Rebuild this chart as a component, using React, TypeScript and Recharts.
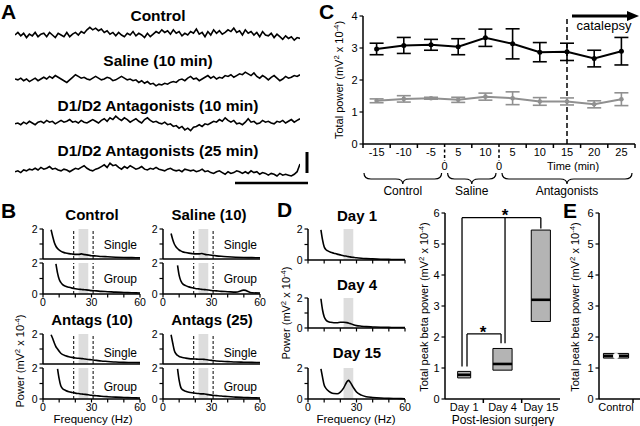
import React from 'react';
import { LineChart, Line, XAxis, YAxis, ReferenceLine, ReferenceArea, ErrorBar, ComposedChart } from 'recharts';

const FONT = '"Liberation Sans", Arial, Helvetica, sans-serif';

// ---------- Panel A: raw traces ----------
const traceTitles = ['Control', 'Saline (10 min)', 'D1/D2 Antagonists (10 min)', 'D1/D2 Antagonists (25 min)'];
const traceControl = [0,1.5,-0.5,1,-1.5,0.5,-0.5,1.5,-1,0.5,1,-1,1.5,0,-1.5,1,0,-1,1.5,-1,0.5,1.5,0,2,1,3,4.5,3,4,2.5,3.5,1.5,2.5,0.5,1.5,-0.5,1.5,0,-1,1,0,2,-0.5,1,0,-1.5,1,-1,0.5,2,1,3,1.5,2.5,0.5,3,1,2,-0.5,1,0,2,1,3.5,0.5,1.5,-1,2,0,3,1,2.5,0.5,1.5,3,2,4,1.5,2.5,0,3,1,2,0,1.5,-1,2,0,-0.5,1,-1.5,0.5,-1,-2.5,-0.5,-2,-1,-3,-1.5,-2];
const traceSaline = [0,-0.5,0.5,-1,0,-1.5,-0.5,0.5,-1,0,1,0,1.5,0.5,2,1,0,-1,-2,-0.5,1,2.5,1.5,0.5,1,0,-0.5,0.5,1.5,0.5,-0.5,0,1,0.5,-1,-0.5,0.5,1.5,0.5,-0.5,0,-1,-0.5,-2,-1,-2.5,-1.5,-3,-2.5,-4,-3,-3.5,-2.5,-3,-2,-1.5,-2,-0.5,0,-1,0.5,1.5,0,0.5,-1,0,1,2,0.5,1.5,0,1,0.5,2,1.5,2.5,1,2,3,2.5,4,3,2,3.5,1.5,0.5,2,1,-0.5,1,2,0.5,-1,0,1.5,0.5,1,2,1.5,2.5];
const traceAnt10 = [-0.5,0,-1,0.5,-0.5,1,0,-1,0.5,1,0,1.5,0.5,1,-0.5,0.5,1.5,0.5,1,2,0.5,1,0,1.5,0.5,0,1,2,1,0,1.5,2.5,1,3,2,4,2.5,1.5,3,2,0.5,1.5,2.5,1,0,2,3,1.5,0.5,1,0,-0.5,0.5,-1,-0.5,-2,-1.5,-3,-2,-4,-3,-4.5,-2.5,-2,-1,-2,-0.5,-1,0,1,0.5,2,1,3,1.5,0.5,1.5,-0.5,0,-1,0.5,2.5,0.5,1,-0.5,0,1.5,0.5,1,0,-0.5,1,0.5,1.5,0,1,2,0.5,1.5,2.5];
const traceAnt25 = [-1,-0.5,-1.5,0,-0.5,0.5,0,1,0,1.5,0.5,1,2,0.5,1,0,-0.5,0.5,0,-1,0,1,0.5,1.5,2.5,1,0,-0.5,0.5,1,2,3,1.5,4,2.5,3,1.5,0.5,2,1,2.5,1.5,0.5,1,2,0.5,0,1,0.5,1.5,0.5,0,-0.5,0.5,1,0,-0.5,0,-1,0.5,0,-0.5,0,-1,-0.5,0.5,-1,-0.5,-1.5,-2,-1,-0.5,-1.5,-2.5,-1,-2,-1.5,-0.5,-1,-2,-1,-2,-0.5,-1.5,-1,-2.5,-1.5,-2,-3,-2,-2.5,-3.5,-2,-3,-2.5,-3,-3.5,-2.5,-1,3.5];

// ---------- Panels B & D: power spectra ----------
const freqs = [5,6,7,8,9,10,11,12,14,16,18,20,22,24,25,26,28,30,33,36,40,45,50,55,60];
const ctrlSingle = [1.95,1.5,1.1,0.85,0.7,0.6,0.52,0.46,0.4,0.36,0.33,0.31,0.31,0.34,0.31,0.29,0.26,0.22,0.2,0.17,0.15,0.12,0.1,0.09,0.08];
const ctrlGroup = [null,null,null,1.95,1.35,0.95,0.75,0.62,0.5,0.43,0.38,0.34,0.31,0.29,0.28,0.27,0.25,0.22,0.2,0.17,0.15,0.12,0.1,0.08,0.06];
const salSingle = [1.7,1.3,1.0,0.82,0.7,0.6,0.54,0.49,0.43,0.39,0.36,0.34,0.34,0.37,0.34,0.31,0.28,0.25,0.21,0.18,0.15,0.12,0.1,0.09,0.08];
const salGroup = [null,null,null,null,1.85,1.2,0.85,0.68,0.54,0.46,0.4,0.36,0.33,0.3,0.29,0.28,0.26,0.23,0.2,0.17,0.15,0.12,0.25,0.08,0.06];
const ant10Single = [1.95,1.7,1.4,1.15,1.0,0.85,0.72,0.64,0.55,0.48,0.44,0.4,0.38,0.36,0.35,0.33,0.3,0.28,0.24,0.2,0.17,0.13,0.11,0.1,0.09];
const ant10Group = [null,null,null,null,1.95,1.3,0.85,0.68,0.55,0.47,0.42,0.38,0.35,0.32,0.31,0.3,0.27,0.24,0.21,0.18,0.15,0.12,0.1,0.08,0.06];
const ant25Single = [1.95,1.4,0.9,0.68,0.57,0.5,0.46,0.43,0.39,0.36,0.34,0.33,0.32,0.32,0.31,0.3,0.27,0.24,0.2,0.18,0.16,0.13,0.12,0.11,0.1];
const ant25Group = [null,null,null,null,1.95,1.2,0.75,0.6,0.5,0.44,0.4,0.37,0.35,0.33,0.33,0.32,0.28,0.25,0.22,0.19,0.16,0.12,0.1,0.08,0.06];
const day1Spec = [null,null,null,1.95,1.3,0.85,0.68,0.6,0.5,0.44,0.38,0.33,0.28,0.24,0.22,0.2,0.17,0.14,0.11,0.09,0.07,0.05,0.04,0.03,0.03];
const day4Spec = [null,null,null,1.95,1.2,0.75,0.55,0.45,0.38,0.35,0.35,0.38,0.38,0.36,0.33,0.3,0.22,0.16,0.12,0.09,0.07,0.05,0.04,0.03,0.03];
const day15Spec = [null,null,null,1.95,1.4,0.9,0.7,0.58,0.42,0.35,0.34,0.45,0.7,1.1,1.2,1.1,0.75,0.45,0.25,0.15,0.1,0.06,0.04,0.03,0.02];
const betaBand = [22, 28];
const dashedHz = [19, 31];
const hzTicks = [0,10,20,30,40,50,60];
const hzLabels = [0,30,60];

// ---------- Panel C ----------
const timeLabels = ['-15','-10','-5','5','10','5','10','15','20','25'];
const blackMean = [2.97,3.08,3.1,3.04,3.32,3.13,2.87,2.88,2.67,2.9];
const blackErr = [0.18,0.25,0.17,0.25,0.27,0.47,0.3,0.27,0.26,0.43];
const grayMean = [1.35,1.41,1.43,1.38,1.48,1.43,1.33,1.33,1.24,1.4];
const grayErr = [0.06,0.1,0.03,0.08,0.11,0.2,0.12,0.11,0.11,0.2];
const phaseNames = ['Control','Saline','Antagonists'];
const phaseCounts = [3,2,5];

// ---------- Panels D (box) & E ----------
const dayLabels = ['Day 1','Day 4','Day 15'];
const boxLow = [0.68,0.93,2.5];
const boxHigh = [0.89,1.63,5.45];
const boxMed = [0.78,1.13,3.2];
const ctrlLabels = ['Control'];
const ctrlLow = [1.32];
const ctrlHigh = [1.47];
const ctrlMed = [1.39];

// annotation geometry (data units)
const boxHalfW = [0.17,0.25,0.25];
const bracketSegs = [
  [-0.056,1.05,-0.056,5.85],[0.074,1.05,0.074,2.1],[0.074,2.1,0.962,2.1],[0.962,2.1,0.962,1.8],
  [1.066,1.8,1.066,5.85],[-0.056,5.85,2.0,5.85],[2.0,5.85,2.0,5.5],
];

const AX = { stroke: '#000', strokeWidth: 1.5 };

const yTick = (labels: number[], fs = 10.5) => (p: any) => {
  const { x, y, payload } = p;
  const show = labels.includes(payload.value);
  return (
    <g>
      <line x1={x - 3.5} x2={x} y1={y} y2={y} stroke="#000" strokeWidth={1.2} />
      {show && <text x={x - 5.5} y={y + 3.8} textAnchor="end" fontSize={fs} fontFamily={FONT} fill="#000">{payload.value}</text>}
    </g>
  );
};

const xTickHz = (withLabels: boolean) => (p: any) => {
  const { x, y, payload } = p;
  const show = withLabels && hzLabels.includes(payload.value);
  return (
    <g>
      <line x1={x} x2={x} y1={y} y2={y + 3.5} stroke="#000" strokeWidth={1.2} />
      {show && <text x={x} y={y + 12} textAnchor="middle" fontSize={10.5} fontFamily={FONT} fill="#000">{payload.value}</text>}
    </g>
  );
};

function Trace({ vals, cy }: any) {
  const data = vals.map((v: number, i: number) => ({ i, v }));
  return (
    <div style={{ position: 'absolute', left: 15, top: cy - 12 }}>
      <LineChart width={285} height={24} data={data} margin={{ top: 0, right: 0, left: 0, bottom: 0 }}>
        <XAxis type="number" dataKey="i" domain={['dataMin', 'dataMax']} hide />
        <YAxis type="number" domain={[-7, 7]} hide />
        <Line type="linear" dataKey="v" stroke="#000" strokeWidth={1.6} dot={false} isAnimationActive={false} />
      </LineChart>
    </div>
  );
}

function Spec({ x, y, w, h, vals, xMode, yLabels, dashed }: any) {
  const YW = 28, MT = 8, MR = 8, XH = 16;
  const data = freqs.map((f, i) => ({ f, v: vals[i] }));
  return (
    <div style={{ position: 'absolute', left: x - YW, top: y - MT }}>
      <LineChart width={w + YW + MR} height={h + MT + XH} data={data} margin={{ top: MT, right: MR, left: 0, bottom: 0 }}>
        <ReferenceArea x1={betaBand[0]} x2={betaBand[1]} fill="#dddddd" fillOpacity={1} stroke="none" />
        {dashed && dashedHz.map((d) => <ReferenceLine key={d} x={d} stroke="#000" strokeWidth={1} strokeDasharray="3 2" />)}
        <XAxis type="number" dataKey="f" domain={[0, 60]} ticks={hzTicks} interval={0} height={XH} axisLine={AX}
          tickLine={false} tickSize={0} tickMargin={0} tick={xMode === 'line' ? false : xTickHz(xMode === 'labels')} />
        <YAxis type="number" domain={[0, 2]} ticks={[0, 1, 2]} interval={0} width={YW} axisLine={AX}
          tickLine={false} tickSize={0} tickMargin={0} tick={yTick(yLabels)} />
        <Line type="monotone" dataKey="v" stroke="#000" strokeWidth={1.6} dot={false} isAnimationActive={false} />
      </LineChart>
    </div>
  );
}

const C_W = 272, C_H = 128, C_X = 363, C_Y = 16;
const C_BW = C_W / timeLabels.length;
const phaseBounds: number[] = [];
phaseCounts.reduce((acc, c) => { phaseBounds.push(acc + c - 0.5); return acc + c; }, 0);

const cTick = (p: any) => {
  const { x, y, payload } = p;
  const v = payload.value;
  const idx = Math.round(v + 0.5);
  const isPhase = phaseBounds.slice(0, -1).some((b) => Math.abs(b - v) < 1e-6);
  return (
    <g>
      {isPhase ? (
        <g>
          <line x1={x} x2={x} y1={y} y2={y + 17} stroke="#000" strokeWidth={1.5} strokeDasharray="3 2.5" />
          <text x={x} y={y + 26} textAnchor="middle" fontSize={11} fontFamily={FONT}>0</text>
        </g>
      ) : (
        <line x1={x} x2={x} y1={y} y2={y + 4} stroke="#000" strokeWidth={1.5} />
      )}
      {idx < timeLabels.length && (
        <text x={x + C_BW / 2} y={y + 12} textAnchor="middle" fontSize={11} fontFamily={FONT}>{timeLabels[idx]}</text>
      )}
    </g>
  );
};

function PanelC() {
  const data = timeLabels.map((t, i) => ({ i, bm: blackMean[i], be: blackErr[i], gm: grayMean[i], ge: grayErr[i] }));
  const YW = 30, MT = 8, MR = 5, XH = 30;
  const ticks = timeLabels.map((_, i) => i - 0.5).concat([timeLabels.length - 0.5]);
  const cat = timeLabels.lastIndexOf('15');
  return (
    <div style={{ position: 'absolute', left: C_X - YW, top: C_Y - MT }}>
      <LineChart width={C_W + YW + MR} height={C_H + MT + XH} data={data} margin={{ top: MT, right: MR, left: 0, bottom: 0 }}>
        <XAxis type="number" dataKey="i" domain={[-0.5, timeLabels.length - 0.5]} ticks={ticks} interval={0} height={XH}
          axisLine={AX} tickLine={false} tickSize={0} tickMargin={0} tick={cTick} />
        <YAxis type="number" domain={[0, 4]} ticks={[0, 1, 2, 3, 4]} interval={0} width={YW} axisLine={AX}
          tickLine={false} tickSize={0} tickMargin={0} tick={yTick([0, 1, 2, 3, 4], 11)} />
        <ReferenceLine x={cat} stroke="#000" strokeWidth={1.5} strokeDasharray="5 3" />
        <Line type="linear" dataKey="gm" stroke="#909090" strokeWidth={2} dot={{ r: 2.3, fill: '#909090', strokeWidth: 0 }} isAnimationActive={false}>
          <ErrorBar dataKey="ge" width={7} stroke="#909090" strokeWidth={1.6} direction="y" />
        </Line>
        <Line type="linear" dataKey="bm" stroke="#000" strokeWidth={2} dot={{ r: 2.5, fill: '#000', strokeWidth: 0 }} isAnimationActive={false}>
          <ErrorBar dataKey="be" width={7} stroke="#000" strokeWidth={1.6} direction="y" />
        </Line>
      </LineChart>
    </div>
  );
}

function BoxPanel({ x, w, labels, lows, highs, meds, halfW, domain, brackets, tickVals }: any) {
  const YW = 30, MT = 8, MR = 0, XH = 20, H = 186, Y = 213;
  const data = labels.map((l: string, i: number) => ({ p: i, med: meds[i] }));
  const bw = w / (domain[1] - domain[0]);
  const tick = (p: any) => {
    const { x: tx, y, payload } = p;
    const v = payload.value;
    const idx = Math.round(v - 0.5);
    return (
      <g>
        {v > domain[0] + 0.01 && v < domain[1] && <line x1={tx} x2={tx} y1={y} y2={y + 4} stroke="#000" strokeWidth={1.5} />}
        {idx >= 0 && idx < labels.length && Math.abs(v - (idx + 0.5)) < 1e-6 && (
          <text x={tx - bw / 2} y={y + 12} textAnchor="middle" fontSize={11} fontFamily={FONT}>{labels[idx]}</text>
        )}
      </g>
    );
  };
  return (
    <div style={{ position: 'absolute', left: x - YW, top: Y - MT }}>
      <ComposedChart width={w + YW + MR} height={H + MT + XH} data={data} margin={{ top: MT, right: MR, left: 0, bottom: 0 }}>
        <XAxis type="number" dataKey="p" domain={domain} ticks={tickVals} interval={0} height={XH} axisLine={AX}
          tickLine={false} tickSize={0} tickMargin={0} tick={tick} allowDataOverflow />
        <YAxis type="number" domain={[0, 6]} ticks={[0, 1, 2, 3, 4, 5, 6]} interval={0} width={YW} axisLine={AX}
          tickLine={false} tickSize={0} tickMargin={0} tick={yTick([0, 1, 2, 3, 4, 5, 6], 11)} />
        {brackets.map((s: number[], k: number) => (
          <ReferenceLine key={'b' + k} segment={[{ x: s[0], y: s[1] }, { x: s[2], y: s[3] }]} stroke="#000" strokeWidth={1.3} ifOverflow="visible" />
        ))}
        {labels.map((l: string, i: number) => (
          <ReferenceArea key={'a' + i} x1={i - halfW[i]} x2={i + halfW[i]} y1={lows[i]} y2={highs[i]} fill="#b4b4b4" fillOpacity={1} stroke="#000" strokeWidth={1} />
        ))}
        {labels.map((l: string, i: number) => (
          <ReferenceLine key={'m' + i} segment={[{ x: i - halfW[i], y: meds[i] }, { x: i + halfW[i], y: meds[i] }]} stroke="#000" strokeWidth={2.6} />
        ))}
        <Line dataKey="med" stroke="none" dot={false} activeDot={false} isAnimationActive={false} />
      </ComposedChart>
    </div>
  );
}

function SupLabel({ x, y, pre, size = 11 }: any) {
  return (
    <text transform={`translate(${x},${y}) rotate(-90)`} textAnchor="middle" fontSize={size} fontFamily={FONT} fill="#000">
      {pre}(mV<tspan dy={-4} fontSize={size * 0.7}>2</tspan><tspan dy={4}> x 10</tspan><tspan dy={-4} fontSize={size * 0.7}>-4</tspan><tspan dy={4}>)</tspan>
    </text>
  );
}

function brace(x1: number, x2: number, y0: number, y1: number, y2: number) {
  const xm = (x1 + x2) / 2;
  return `M${x1},${y0} Q${x1},${y1} ${x1 + 7},${y1} L${xm - 7},${y1} Q${xm},${y1} ${xm},${y2} Q${xm},${y1} ${xm + 7},${y1} L${x2 - 7},${y1} Q${x2},${y1} ${x2},${y0}`;
}

export default function App() {
  const tc = [35, 79, 123, 170];
  const tTitleY = [21, 66, 111, 156];
  const traces = [traceControl, traceSaline, traceAnt10, traceAnt25];
  const braceStarts: number[] = [];
  phaseCounts.reduce((acc, c) => { braceStarts.push(acc); return acc + c; }, 0);
  return (
    <div style={{ position: 'absolute', left: 0, top: 0, width: 640, height: 426, background: '#fff', overflow: 'hidden', fontFamily: FONT }}>
      {traces.map((t, i) => <Trace key={i} vals={t} cy={tc[i]} />)}

      <Spec x={43} y={229} w={97} h={30} vals={ctrlSingle} xMode="line" yLabels={[2]} dashed />
      <Spec x={43} y={263} w={97} h={31} vals={ctrlGroup} xMode="labels" yLabels={[0, 2]} dashed />
      <Spec x={163} y={229} w={97} h={30} vals={salSingle} xMode="line" yLabels={[2]} dashed />
      <Spec x={163} y={263} w={97} h={31} vals={salGroup} xMode="labels" yLabels={[0, 2]} dashed />
      <Spec x={43} y={334} w={97} h={30} vals={ant10Single} xMode="line" yLabels={[2]} dashed />
      <Spec x={43} y={368} w={97} h={31} vals={ant10Group} xMode="labels" yLabels={[0, 2]} dashed />
      <Spec x={163} y={334} w={97} h={30} vals={ant25Single} xMode="line" yLabels={[2]} dashed />
      <Spec x={163} y={368} w={97} h={31} vals={ant25Group} xMode="labels" yLabels={[0, 2]} dashed />

      <Spec x={308} y={229} w={97} h={31} vals={day1Spec} xMode="ticks" yLabels={[0, 2]} />
      <Spec x={308} y={298} w={97} h={30} vals={day4Spec} xMode="ticks" yLabels={[0, 2]} />
      <Spec x={308} y={368} w={97} h={31} vals={day15Spec} xMode="labels" yLabels={[0, 2]} />

      <PanelC />

      <BoxPanel x={445} w={115} labels={dayLabels} lows={boxLow} highs={boxHigh} meds={boxMed} halfW={boxHalfW}
        domain={[-0.5, 2.5]} brackets={bracketSegs} tickVals={[-0.5, 0.5, 1.5, 2.5]} />
      <BoxPanel x={599} w={41} labels={ctrlLabels} lows={ctrlLow} highs={ctrlHigh} meds={ctrlMed} halfW={[0.37]}
        domain={[-0.5, 0.705]} brackets={[]} tickVals={[-0.5, 0.5]} />

      <svg width={640} height={426} style={{ position: 'absolute', left: 0, top: 0, pointerEvents: 'none' }} fontFamily={FONT}>
        <text x={1} y={19} fontSize={21} fontWeight="bold">A</text>
        <text x={1} y={218} fontSize={21} fontWeight="bold">B</text>
        <text x={319} y={19} fontSize={21} fontWeight="bold">C</text>
        <text x={277} y={217} fontSize={21} fontWeight="bold">D</text>
        <text x={563} y={218} fontSize={21} fontWeight="bold">E</text>

        {traceTitles.map((t, i) => (
          <text key={t} x={158} y={tTitleY[i]} textAnchor="middle" fontSize={15.5} fontWeight="bold">{t}</text>
        ))}
        <line x1={307} x2={307} y1={152} y2={173} stroke="#000" strokeWidth={3} />
        <line x1={235} x2={308} y1={183} y2={183} stroke="#000" strokeWidth={2.5} />

        <text x={92} y={220} textAnchor="middle" fontSize={15} fontWeight="bold">Control</text>
        <text x={209} y={220} textAnchor="middle" fontSize={15} fontWeight="bold">Saline (10)</text>
        <text x={92} y={325} textAnchor="middle" fontSize={15} fontWeight="bold">Antags (10)</text>
        <text x={212} y={325} textAnchor="middle" fontSize={15} fontWeight="bold">Antags (25)</text>
        {[[137, 249], [137, 283], [257, 249], [257, 283], [137, 357], [137, 391], [257, 357], [257, 391]].map((p, k) => (
          <text key={k} x={p[0]} y={p[1]} textAnchor="end" fontSize={12}>{k % 2 === 0 ? 'Single' : 'Group'}</text>
        ))}
        <SupLabel x={24} y={361} pre="Power " />
        <text x={93} y={423} textAnchor="middle" fontSize={11.5}>Frequency (Hz)</text>

        <SupLabel x={343} y={80} pre="Total power " />
        <line x1={572} x2={629} y1={16} y2={16} stroke="#000" strokeWidth={3} />
        <polygon points="627,11 639,16 627,21" fill="#000" />
        <text x={604} y={30} textAnchor="middle" fontSize={13}>catalepsy</text>
        <text x={573} y={170} textAnchor="middle" fontSize={11}>Time (min)</text>
        {phaseNames.map((n, k) => {
          const xa = C_X + braceStarts[k] * C_BW + (k === 0 ? 1 : 3);
          const xb = C_X + (braceStarts[k] + phaseCounts[k]) * C_BW - 3;
          return (
            <g key={n}>
              <path d={brace(xa, xb, 173, 179, 184)} fill="none" stroke="#000" strokeWidth={1.2} />
              <text x={(xa + xb) / 2} y={195} textAnchor="middle" fontSize={12}>{n}</text>
            </g>
          );
        })}

        <text x={357} y={221} textAnchor="middle" fontSize={15} fontWeight="bold">Day 1</text>
        <text x={357} y={290} textAnchor="middle" fontSize={15} fontWeight="bold">Day 4</text>
        <text x={357} y={358} textAnchor="middle" fontSize={15} fontWeight="bold">Day 15</text>
        <SupLabel x={290} y={313} pre="Power " />
        <text x={356} y={423} textAnchor="middle" fontSize={11.5}>Frequency (Hz)</text>

        <SupLabel x={428} y={307} pre="Total peak beta power " />
        <text x={503} y={424} textAnchor="middle" fontSize={12}>Post-lesion surgery</text>
        <text x={505} y={221} textAnchor="middle" fontSize={17} fontWeight="bold">*</text>
        <text x={483} y={338} textAnchor="middle" fontSize={17} fontWeight="bold">*</text>
        <SupLabel x={579} y={307} pre="Total peak beta power " />
      </svg>
    </div>
  );
}
